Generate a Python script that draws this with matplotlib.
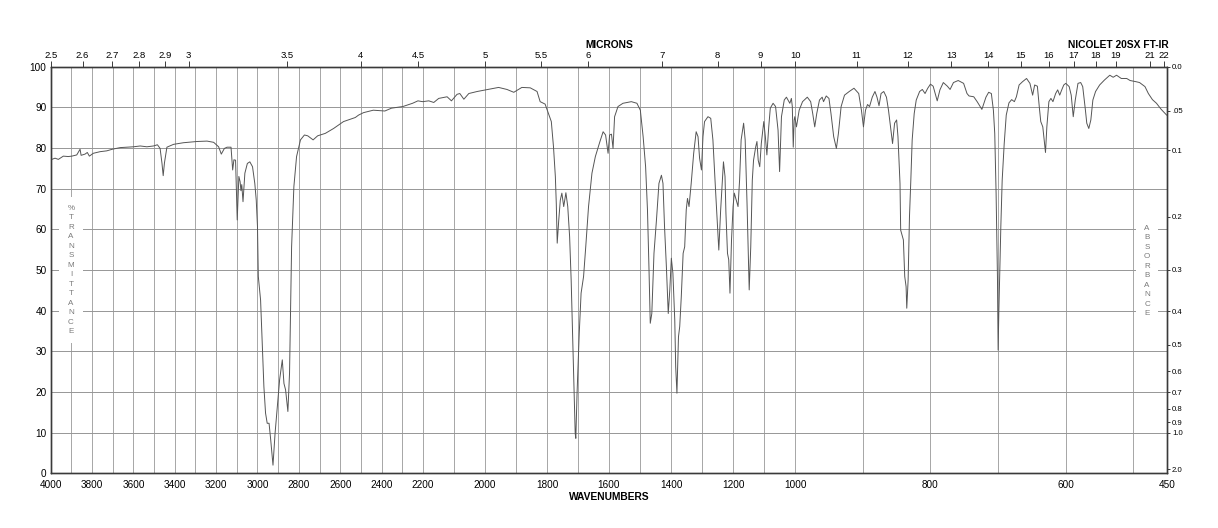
import numpy as np
import matplotlib
matplotlib.use('Agg')
from matplotlib import pyplot as plt

plt.rcParams['font.family'] = ['Liberation Sans', 'DejaVu Sans']

# spectrum: wavenumber (cm-1) and % transmittance
wavenumber = [
    4000, 3979, 3963, 3939, 3915, 3898, 3874, 3858, 3853, 3834, 3823, 3813, 3794, 3761,
    3729, 3702, 3664, 3632, 3600, 3567, 3535, 3503, 3484, 3471, 3462, 3456, 3450, 3438,
    3406, 3358, 3293, 3244, 3212, 3188, 3175, 3160, 3147, 3128, 3120, 3114, 3106, 3098,
    3090, 3084, 3080, 3076, 3070, 3061, 3049, 3037, 3024, 3013, 3006, 3000, 2996, 2985,
    2977, 2969, 2961, 2953, 2944, 2936, 2925, 2915, 2904, 2893, 2880, 2872, 2864, 2853,
    2845, 2840, 2835, 2824, 2811, 2792, 2773, 2757, 2731, 2709, 2672, 2632, 2584, 2527,
    2511, 2487, 2440, 2384, 2352, 2297, 2250, 2224, 2202, 2181, 2165, 2149, 2122, 2108,
    2090, 2081, 2068, 2052, 2025, 1998, 1956, 1929, 1907, 1881, 1854, 1832, 1822, 1806,
    1797, 1786, 1779, 1773, 1770, 1767, 1762, 1757, 1752, 1746, 1739, 1733, 1727, 1722,
    1718, 1713, 1709, 1707, 1703, 1696, 1690, 1682, 1675, 1666, 1655, 1644, 1630, 1619,
    1611, 1603, 1598, 1592, 1587, 1582, 1571, 1555, 1528, 1510, 1499, 1490, 1482, 1476,
    1471, 1467, 1462, 1455, 1447, 1439, 1431, 1426, 1421, 1415, 1409, 1404, 1399, 1394,
    1388, 1385, 1381, 1376, 1372, 1367, 1361, 1356, 1351, 1347, 1342, 1335, 1327, 1319,
    1313, 1308, 1302, 1297, 1292, 1281, 1272, 1265, 1256, 1250, 1246, 1240, 1235, 1231,
    1226, 1223, 1218, 1214, 1210, 1205, 1200, 1196, 1190, 1184, 1179, 1174, 1166, 1161,
    1155, 1151, 1148, 1143, 1138, 1134, 1127, 1123, 1119, 1114, 1109, 1101, 1096, 1091,
    1085, 1080, 1071, 1063, 1055, 1050, 1044, 1035, 1028, 1017, 1012, 1009, 1006, 1003,
    1001, 998, 994, 989, 982, 977, 974, 971, 968, 964, 960, 958, 954, 950,
    947, 943, 939, 936, 932, 927, 920, 913, 906, 902, 899, 896, 893, 890,
    886, 882, 879, 876, 873, 869, 865, 862, 859, 856, 853, 850, 848, 845,
    844, 840, 838, 836, 835, 833, 831, 829, 827, 824, 821, 816, 812, 808,
    804, 800, 796, 793, 790, 786, 781, 775, 771, 766, 759, 751, 746, 743,
    736, 731, 724, 718, 714, 710, 707, 705, 703, 701, 700, 699, 696, 694,
    691, 688, 684, 680, 676, 673, 669, 664, 658, 653, 649, 646, 642, 639,
    637, 634, 632, 630, 628, 625, 622, 619, 615, 612, 609, 606, 603, 600,
    595, 592, 589, 586, 582, 578, 575, 571, 569, 566, 563, 560, 556, 550,
    543, 535, 530, 525, 518, 510, 505, 496, 491, 483, 478, 472, 466, 459,
    451,
]
transmittance = [
    77.1, 77.5, 77.2, 78.0, 77.9, 78.0, 78.3, 79.7, 78.2, 78.5, 78.9, 78.0, 78.7, 79.1,
    79.3, 79.7, 80.1, 80.2, 80.3, 80.5, 80.3, 80.5, 80.8, 79.9, 76.3, 73.2, 76.3, 80.2,
    80.9, 81.3, 81.6, 81.7, 81.4, 80.3, 78.5, 79.9, 80.2, 80.2, 74.6, 77.1, 77.0, 62.3,
    73.0, 71.7, 69.5, 71.0, 66.8, 73.8, 76.2, 76.6, 75.4, 71.3, 67.2, 60.7, 48.4, 42.6,
    32.0, 21.3, 14.8, 12.3, 12.3, 8.2, 2.0, 9.8, 16.4, 23.0, 27.9, 22.1, 20.5, 15.2,
    24.6, 40.2, 55.7, 70.5, 77.9, 82.0, 83.2, 83.0, 82.0, 83.0, 83.6, 84.8, 86.5, 87.5,
    88.1, 88.7, 89.3, 89.1, 89.8, 90.2, 91.0, 91.6, 91.4, 91.6, 91.2, 92.2, 92.6, 91.6,
    93.2, 93.4, 92.0, 93.4, 93.9, 94.3, 94.9, 94.4, 93.7, 94.9, 94.8, 93.9, 91.4, 90.8,
    88.9, 86.5, 80.3, 73.0, 66.4, 56.6, 62.3, 67.2, 68.9, 65.6, 69.0, 65.6, 58.2, 47.5,
    36.1, 21.3, 9.8, 8.6, 19.7, 34.4, 44.3, 48.4, 55.7, 65.6, 73.8, 77.9, 81.4, 84.0,
    83.2, 78.7, 83.2, 83.4, 79.9, 87.7, 90.2, 91.0, 91.4, 91.0, 89.3, 82.8, 75.4, 64.8,
    50.0, 36.9, 39.3, 54.1, 62.3, 71.3, 73.3, 71.3, 60.7, 50.8, 39.3, 45.1, 52.9, 49.2,
    37.7, 26.2, 19.7, 33.6, 36.1, 43.4, 54.1, 55.7, 64.8, 67.6, 65.6, 71.3, 78.7, 84.0,
    82.8, 77.5, 74.6, 82.8, 86.5, 87.7, 87.3, 82.0, 68.9, 60.7, 54.9, 64.8, 71.3, 76.6,
    73.0, 63.9, 54.1, 52.5, 44.3, 57.4, 65.6, 68.9, 67.2, 65.6, 72.1, 82.0, 86.1, 82.0,
    66.4, 54.1, 45.1, 55.7, 72.1, 77.0, 80.3, 81.6, 77.0, 75.4, 81.1, 86.5, 82.8, 78.3,
    85.2, 89.8, 91.0, 90.2, 84.4, 74.2, 87.7, 91.8, 92.5, 91.0, 92.2, 90.2, 80.2, 86.9,
    87.7, 85.2, 89.3, 91.4, 92.5, 91.4, 88.5, 85.2, 88.5, 91.8, 92.5, 91.4, 92.8, 92.2,
    88.5, 82.8, 79.9, 83.6, 90.2, 93.0, 93.9, 94.7, 93.4, 89.3, 85.2, 89.3, 90.7, 90.2,
    92.5, 93.9, 92.5, 90.4, 93.4, 93.9, 92.5, 89.3, 85.2, 81.1, 86.1, 86.9, 82.8, 71.3,
    59.8, 57.4, 48.4, 45.9, 40.6, 47.5, 63.1, 72.1, 82.0, 88.5, 91.8, 93.9, 94.4, 93.4,
    94.7, 95.7, 95.2, 93.4, 91.6, 94.3, 96.1, 95.2, 94.4, 96.1, 96.6, 95.9, 93.4, 92.8,
    92.6, 91.4, 89.5, 92.5, 93.7, 93.4, 89.3, 83.6, 68.9, 48.4, 30.3, 39.3, 60.7, 72.1,
    81.1, 88.1, 91.1, 91.9, 91.4, 92.6, 95.5, 96.3, 97.1, 95.9, 93.0, 95.5, 95.2, 89.8,
    86.5, 85.2, 82.0, 78.9, 85.2, 91.4, 92.2, 91.4, 93.4, 94.3, 93.0, 94.3, 95.5, 95.9,
    95.1, 93.0, 87.7, 91.8, 95.9, 96.1, 95.1, 89.3, 86.1, 84.8, 86.9, 91.8, 93.9, 95.5,
    96.7, 97.9, 97.4, 97.9, 97.1, 97.1, 96.6, 96.3, 96.1, 95.1, 93.4, 91.9, 91.0, 89.5,
    88.1,
]

wn_labels = [4000, 3800, 3600, 3400, 3200, 3000, 2800, 2600, 2400, 2200,
             2000, 1800, 1600, 1400, 1200, 1000, 800, 600, 450]
grid_wn = list(range(500, 4000, 100))
micron_labels = ['2.5', '2.6', '2.7', '2.8', '2.9', '3', '3.5', '4', '4.5', '5', '5.5',
                 '6', '7', '8', '9', '10', '11', '12', '13', '14', '15', '16', '17',
                 '18', '19', '21', '22']
absorbance_labels = ['0.0', '.05', '0.1', '0.2', '0.3', '0.4', '0.5', '0.6', '0.7',
                     '0.8', '0.9', '1.0', '2.0']
pct_labels = [0, 10, 20, 30, 40, 50, 60, 70, 80, 90, 100]

# the chart paper has three linear segments of equal width
breaks = [450, 1000, 2200, 4000]

def fwd(w):
    return np.interp(w, breaks, [0, 1, 2, 3])

def inv(u):
    return np.interp(u, [0, 1, 2, 3], breaks)

axis_col = '#3a3a3a'

fig = plt.figure(figsize=(12.18, 5.28), dpi=100)
ax = fig.add_axes([0.04163, 0.1036, 0.91675, 0.7701])
ax.set_xscale('function', functions=(fwd, inv))
ax.set_xlim(4000, 450)
ax.set_ylim(0, 100)

ax.set_xticks(wn_labels)
ax.set_xticklabels([str(w) for w in wn_labels])
ax.set_yticks(pct_labels)
ax.tick_params(axis='x', which='both', length=0, pad=4.5, labelsize=7.2)
ax.tick_params(axis='y', length=0, pad=3, labelsize=7.2)
for w in grid_wn:
    ax.axvline(w, color='#a6a6a6', lw=0.7, zorder=0)
for t in pct_labels[1:-1]:
    ax.axhline(t, color='#969696', lw=0.7, zorder=0)

ax.plot(wavenumber, transmittance, color='#555555', lw=0.7, zorder=3)

for s in ax.spines.values():
    s.set_color(axis_col)
    s.set_linewidth(0.9)

# top axis in microns
ax2 = ax.twiny()
ax2.set_xscale('function', functions=(fwd, inv))
ax2.set_xlim(4000, 450)
ax2.set_xticks([10000 / float(m) for m in micron_labels])
ax2.set_xticklabels(micron_labels)
ax2.tick_params(axis='x', length=4, width=0.7, color=axis_col, pad=0.8, labelsize=6.8)
ax2.xaxis.set_minor_locator(matplotlib.ticker.NullLocator())

# right axis in absorbance
ax3 = ax.twinx()
ax3.set_ylim(0, 100)
ax3.set_yticks([100 * 10 ** (-float(a)) for a in absorbance_labels])
ax3.set_yticklabels(absorbance_labels)
ax3.tick_params(axis='y', length=2.2, width=0.7, color=axis_col, pad=1.2, labelsize=5.6)
for a in (ax2, ax3):
    for s in a.spines.values():
        s.set_color(axis_col)
        s.set_linewidth(0.9)

box = dict(boxstyle='square,pad=1.0', fc='white', ec='none')
ax.text(3902, 50, '\n'.join('%TRANSMITTANCE'), ha='center', va='center',
        fontsize=5.8, color='#7a7a7a', linespacing=1.5, bbox=box, zorder=2)
ax.text(480, 49.8, '\n'.join('ABSORBANCE'), ha='center', va='center',
        fontsize=5.8, color='#7a7a7a', linespacing=1.5, bbox=box, zorder=2)

fig.text(0.5, 0.9153, 'MICRONS', ha='center', va='center', fontsize=7.4, fontweight='bold')
fig.text(0.9598, 0.9153, 'NICOLET 20SX FT-IR', ha='right', va='center', fontsize=7.4,
         fontweight='bold')
fig.text(0.5, 0.0593, 'WAVENUMBERS', ha='center', va='center', fontsize=7.4,
         fontweight='bold')

fig.savefig('out.png', dpi=100)
